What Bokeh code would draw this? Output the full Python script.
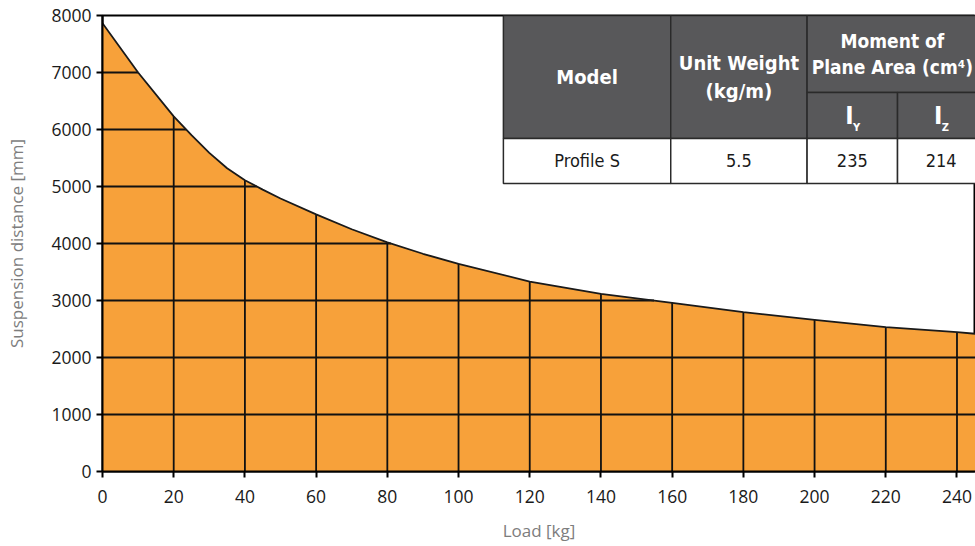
import numpy as np
from bokeh.plotting import figure
from bokeh.models import Range1d, FixedTicker
from bokeh.core.properties import value
from bokeh.embed import file_html
from bokeh.resources import INLINE

# ---- data ----
load_kg = [0, 10, 20, 25, 30, 35, 40, 45, 50, 60, 70, 80, 90, 100, 120, 140, 160, 180, 200, 220, 240, 245.2]
distance_mm = [7865, 7000, 6230, 5900, 5590, 5320, 5110, 4945, 4790, 4510, 4250, 4020, 3820, 3644,
               3333, 3117, 2960, 2795, 2661, 2532, 2444, 2416]
x_ticks = [0, 20, 40, 60, 80, 100, 120, 140, 160, 180, 200, 220, 240]
y_ticks = [0, 1000, 2000, 3000, 4000, 5000, 6000, 7000, 8000]

x_title = "Load [kg]"
y_title = "Suspension distance [mm]"

table_header = ["Model", "Unit Weight", "(kg/m)", "Moment of", "Plane Area (cm\u2074)"]
table_sub = [("I", "Y"), ("I", "Z")]
table_row = ["Profile S", "5.5", "235", "214"]

X_END = 245.2
Y_END = 8000

p = figure(width=975, height=546, output_backend="svg", toolbar_location=None,
           x_range=Range1d(0, X_END), y_range=Range1d(0, Y_END),
           min_border_left=102, min_border_right=0, min_border_top=15, min_border_bottom=75)
p.frame_width = 873
p.frame_height = 456
p.outline_line_color = "black"
p.outline_line_width = 2
p.xgrid.visible = False
p.ygrid.visible = False
p.background_fill_color = "white"

# area
p.varea(x=load_kg, y1=0, y2=distance_mm, fill_color="#f7a13a")

# grid lines clipped to the filled area (computed from the data)
vx = [t for t in x_ticks if 0 < t < X_END]
vy1 = list(np.interp(vx, load_kg, distance_mm))
p.segment(x0=vx, y0=[0] * len(vx), x1=vx, y1=vy1, line_color="#111111", line_width=1.8)
hy = [t for t in y_ticks if 0 < t < Y_END]
rev_d = distance_mm[::-1]
rev_l = load_kg[::-1]
hx1 = [float(np.interp(t, rev_d, rev_l)) if t >= min(distance_mm) else X_END for t in hy]
p.segment(x0=[0] * len(hy), y0=hy, x1=hx1, y1=hy, line_color="#111111", line_width=1.8)

# curve
p.line(load_kg, distance_mm, line_color="#1a1a1a", line_width=1.8)

# axes
for ax in (p.xaxis, p.yaxis):
    ax.axis_line_color = "black"
    ax.axis_line_width = 2
    ax.major_tick_line_color = "black"
    ax.major_tick_line_width = 2
    ax.major_tick_out = 6
    ax.major_tick_in = 0
    ax.minor_tick_line_color = None
    ax.major_label_text_font = "Open Sans"
    ax.major_label_text_font_size = "17.5px"
    ax.major_label_text_color = "#1a1a1a"
    ax.axis_label_text_font = "Open Sans"
    ax.axis_label_text_font_size = "17px"
    ax.axis_label_text_font_style = "normal"
    ax.axis_label_text_color = "#7d7d7d"
p.xaxis.ticker = FixedTicker(ticks=x_ticks)
p.yaxis.ticker = FixedTicker(ticks=y_ticks)
p.xaxis.axis_label = x_title
p.yaxis.axis_label = y_title
p.xaxis.major_label_standoff = 12
p.yaxis.major_label_standoff = 5
p.xaxis.axis_label_standoff = 13
p.yaxis.axis_label_standoff = 20

# ---- table overlay (decoration, placed in plot units) ----
cx = [112.6, 159.6, 197.9, 223.3, 247.8]
ry = [8000, 6649, 5842, 5053]
hdr = "#58585a"
edge = "#2a2a2a"
p.quad(left=[cx[0], cx[1], cx[2], cx[2], cx[3]],
       right=[cx[1], cx[2], cx[4], cx[3], cx[4]],
       top=[ry[0], ry[0], ry[0], ry[1], ry[1]],
       bottom=[ry[2], ry[2], ry[1], ry[2], ry[2]],
       fill_color=hdr, line_color=edge, line_width=1.5)
p.quad(left=cx[:4], right=cx[1:], top=[ry[2]] * 4, bottom=[ry[3]] * 4,
       fill_color="white", line_color=edge, line_width=1.5)

tfont = value("DejaVu Sans Condensed")
hsize = "20px"
p.text(x=[(cx[0] + cx[1]) / 2], y=[(ry[0] + ry[2]) / 2], text=[table_header[0]],
       text_font=tfont, text_font_style="bold", text_font_size=hsize,
       text_color="white", text_align="center", text_baseline="middle")
p.text(x=[(cx[1] + cx[2]) / 2] * 2, y=[7175, 6684], text=table_header[1:3],
       text_font=tfont, text_font_style="bold", text_font_size=hsize,
       text_color="white", text_align="center", text_baseline="middle")
mx = (cx[2] + cx[4]) / 2 - 1.0
p.text(x=[mx, mx], y=[7561, 7088], text=table_header[3:5],
       text_font=tfont, text_font_style="bold", text_font_size="19px",
       text_color="white", text_align="center", text_baseline="middle")
sub_x = [(cx[2] + cx[3]) / 2, (cx[3] + cx[4]) / 2]
p.text(x=[s - 0.8 for s in sub_x], y=[6246] * 2, text=[t[0] for t in table_sub],
       text_font=tfont, text_font_style="bold", text_font_size="25px",
       text_color="white", text_align="center", text_baseline="middle")
p.text(x=[s + 1.2 for s in sub_x], y=[6040] * 2, text=[t[1] for t in table_sub],
       text_font=tfont, text_font_style="bold", text_font_size="11px",
       text_color="white", text_align="center", text_baseline="middle")
p.text(x=[(a + b) / 2 for a, b in zip(cx[:4], cx[1:])], y=[5456] * 4, text=table_row,
       text_font=tfont, text_font_size="18px",
       text_color="#1a1a1a", text_align="center", text_baseline="middle")

open("out.html", "w").write(file_html(p, INLINE))
